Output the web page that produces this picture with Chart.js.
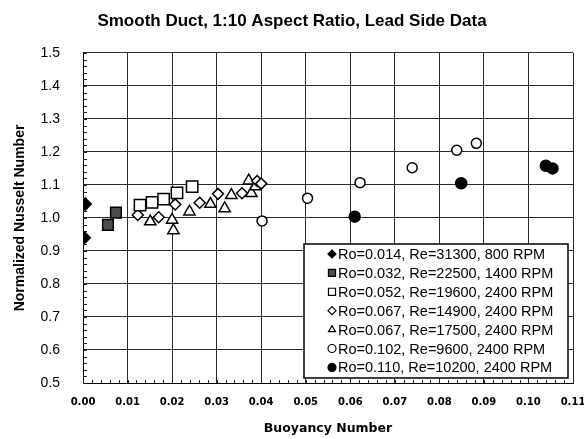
<!DOCTYPE html>
<html>
<head>
<meta charset="utf-8">
<script src="https://cdn.jsdelivr.net/npm/chart.js@4/dist/chart.umd.min.js"></script>
<style>
  html, body { margin: 0; padding: 0; background: #fff; }
  #wrap { width: 584px; height: 439px; }
</style>
</head>
<body>
<div id="wrap"><canvas id="chart" width="584" height="439"></canvas></div>
<script>
// series labels as in the legend
const seriesLabels = [
  'Ro=0.014, Re=31300, 800 RPM',
  'Ro=0.032, Re=22500, 1400 RPM',
  'Ro=0.052, Re=19600, 2400 RPM',
  'Ro=0.067, Re=14900, 2400 RPM',
  'Ro=0.067, Re=17500, 2400 RPM',
  'Ro=0.102, Re=9600, 2400 RPM',
  'Ro=0.110, Re=10200, 2400 RPM'
];

// buoyancy number (x) and normalized Nusselt number (y)
const ro014X = [0.0003, 0.0005];
const ro014Y = [0.940, 1.042];
const ro032X = [0.0056, 0.0074];
const ro032Y = [0.979, 1.016];
const ro052X = [0.0128, 0.0155, 0.0181, 0.0211, 0.0245];
const ro052Y = [1.039, 1.047, 1.057, 1.076, 1.095];
const ro067aX = [0.0123, 0.0170, 0.0207, 0.0262, 0.0303, 0.0357, 0.0391, 0.0400];
const ro067aY = [1.009, 1.002, 1.041, 1.046, 1.073, 1.075, 1.112, 1.104];
const ro067bX = [0.0151, 0.0200, 0.0203, 0.0239, 0.0286, 0.0318, 0.0333, 0.0372, 0.0378, 0.0387];
const ro067bY = [0.989, 0.994, 0.962, 1.019, 1.042, 1.029, 1.069, 1.113, 1.075, 1.095];
const ro102X = [0.0402, 0.0504, 0.0622, 0.0739, 0.0839, 0.0883];
const ro102Y = [0.991, 1.060, 1.107, 1.152, 1.205, 1.226];
const ro110X = [0.0610, 0.0849, 0.1039, 0.1054];
const ro110Y = [1.004, 1.105, 1.158, 1.150];

const xTicks = [0, 0.11, 0.01];
const yTicks = [0.5, 1.5, 0.1];

function pts(xs, ys) {
  return xs.map((x, i) => ({ x: x, y: ys[i] }));
}

const styles = [
  { pointStyle: 'rectRot', radius: 6, bg: '#000', border: '#000' },
  { pointStyle: 'rect', radius: 7.5, bg: '#4d4d4d', border: '#000' },
  { pointStyle: 'rect', radius: 8, bg: '#fff', border: '#000' },
  { pointStyle: 'rectRot', radius: 5.5, bg: '#fff', border: '#000' },
  { pointStyle: 'triangle', radius: 6.5, bg: '#fff', border: '#000' },
  { pointStyle: 'circle', radius: 5, bg: '#fff', border: '#000' },
  { pointStyle: 'circle', radius: 5.5, bg: '#000', border: '#000' }
];

const seriesData = [
  pts(ro014X, ro014Y), pts(ro032X, ro032Y), pts(ro052X, ro052Y),
  pts(ro067aX, ro067aY), pts(ro067bX, ro067bY), pts(ro102X, ro102Y),
  pts(ro110X, ro110Y)
];

const datasets = seriesData.map((d, i) => ({
  label: seriesLabels[i],
  data: d,
  pointStyle: styles[i].pointStyle,
  pointRadius: styles[i].radius,
  pointBackgroundColor: styles[i].bg,
  pointBorderColor: styles[i].border,
  pointBorderWidth: 1.5,
  showLine: false
}));

// small inner ticks between the gridlines
const minorTicks = {
  id: 'minorTicks',
  beforeDatasetsDraw(chart) {
    const ctx = chart.ctx;
    const xs = chart.scales.x, ys = chart.scales.y;
    const a = chart.chartArea;
    ctx.save();
    ctx.strokeStyle = '#222';
    ctx.lineWidth = 1;
    ctx.beginPath();
    for (let k = 0; k <= 50; k++) {
      const py = Math.round(ys.getPixelForValue(0.5 + k * 0.02)) + 0.5;
      ctx.moveTo(a.left, py);
      ctx.lineTo(a.left + 4, py);
    }
    for (let k = 0; k <= 55; k++) {
      const px = Math.round(xs.getPixelForValue(k * 0.002)) + 0.5;
      ctx.moveTo(px, a.bottom);
      ctx.lineTo(px, a.bottom - 3);
    }
    ctx.stroke();
    ctx.restore();
  }
};

// legend box inside the plot, lower right
const boxLegend = {
  id: 'boxLegend',
  afterDatasetsDraw(chart) {
    const ctx = chart.ctx;
    const a = chart.chartArea;
    const w = 264, rowH = 18.9, h = 134;
    const x0 = a.right - 5 - w, y0 = a.bottom - 5 - h;
    ctx.save();
    ctx.fillStyle = '#fff';
    ctx.fillRect(x0, y0, w, h);
    ctx.strokeStyle = '#000';
    ctx.lineWidth = 1.5;
    ctx.strokeRect(x0, y0, w, h);
    ctx.font = '14.5px "Liberation Sans", Arial, sans-serif';
    ctx.fillStyle = '#000';
    ctx.textBaseline = 'middle';
    chart.data.datasets.forEach((ds, i) => {
      const cy = y0 + 10 + i * rowH;
      const cx = x0 + 28;
      ctx.fillStyle = styles[i].bg;
      ctx.strokeStyle = styles[i].border;
      ctx.lineWidth = 1.2;
      Chart.helpers.drawPoint(ctx, {
        pointStyle: styles[i].pointStyle,
        radius: styles[i].pointStyle === 'rect' ? 5 : 4,
        rotation: 0,
        borderWidth: 1.2
      }, cx, cy);
      ctx.fillStyle = '#000';
      ctx.fillText(ds.label, x0 + 34, cy + 1);
    });
    ctx.restore();
  }
};

new Chart(document.getElementById('chart'), {
  type: 'scatter',
  data: { datasets: datasets },
  options: {
    responsive: false,
    animation: false,
    layout: { padding: { left: 0, right: 0, top: 0, bottom: 0 } },
    plugins: {
      legend: { display: false },
      tooltip: { enabled: false },
      title: {
        display: true,
        text: 'Smooth Duct, 1:10 Aspect Ratio, Lead Side Data',
        color: '#000',
        font: { family: '"Liberation Sans", Arial, sans-serif', size: 17, weight: 'bold' },
        padding: { top: 11, bottom: 21.5 }
      }
    },
    scales: {
      x: {
        type: 'linear',
        min: xTicks[0],
        max: xTicks[1],
        afterFit(scale) {
          scale.height = 56;
          scale.paddingLeft = 0;
          scale.paddingRight = 11;
        },
        ticks: {
          stepSize: xTicks[2],
          autoSkip: false,
          maxRotation: 0,
          padding: 13,
          color: '#000',
          font: { family: '"DejaVu Sans", sans-serif', size: 10, weight: 'bold' },
          callback: v => v.toFixed(2)
        },
        grid: { color: '#2a2a2a', lineWidth: 1, drawTicks: false },
        border: { color: '#000', width: 1 },
        title: {
          display: true,
          text: 'Buoyancy Number',
          color: '#000',
          font: { family: '"DejaVu Sans", sans-serif', size: 12.5, weight: 'bold' },
          padding: { top: 0, bottom: 3 }
        }
      },
      y: {
        type: 'linear',
        min: yTicks[0],
        max: yTicks[1],
        afterFit(scale) { scale.width = 83; },
        ticks: {
          stepSize: yTicks[2],
          padding: 23,
          color: '#000',
          font: { family: '"Liberation Sans", Arial, sans-serif', size: 14 },
          callback: v => v.toFixed(1)
        },
        grid: { color: '#2a2a2a', lineWidth: 1, drawTicks: false },
        border: { color: '#000', width: 1 },
        title: {
          display: true,
          text: 'Normalized Nusselt Number',
          color: '#000',
          font: { family: '"Liberation Sans", Arial, sans-serif', size: 14, weight: 'bold' },
          padding: { top: 12, bottom: 0 }
        }
      }
    }
  },
  plugins: [minorTicks, boxLegend]
});
</script>
</body>
</html>
